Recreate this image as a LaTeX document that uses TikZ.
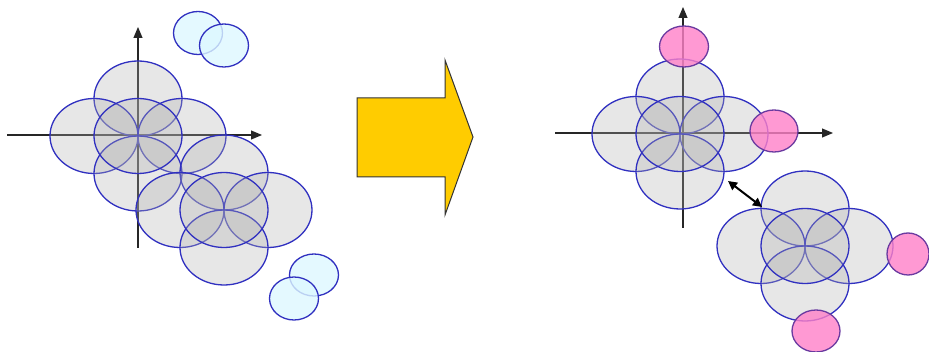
\documentclass[tikz,border=0pt]{standalone}
\usepackage{xcolor}
\usepackage{tikz}
\usetikzlibrary{arrows.meta,calc}
\definecolor{rim}{HTML}{3030C0}
\definecolor{petalgray}{HTML}{B0B0B0}
\definecolor{iceblue}{HTML}{DDF8FF}
\definecolor{candy}{HTML}{FF80C8}
\definecolor{plum}{HTML}{6A3AA0}
\definecolor{amber}{HTML}{FFCC00}
\tikzset{
  axisline/.style={-{Triangle[length=11pt,width=9pt]}, line width=1.1pt, color=black!85},
  petal/.style={draw=rim, line width=1.3pt, fill=petalgray, fill opacity=0.3},
  iceblob/.style={draw=rim, line width=1.3pt, fill=iceblue, fill opacity=0.8},
  candyblob/.style={draw=plum, line width=1.3pt, fill=candy, fill opacity=0.8},
  bigarrow/.style={draw=black!80, line width=1pt, fill=amber},
  gaparrow/.style={{Triangle[length=9pt,width=9pt]}-{Triangle[length=9pt,width=9pt]}, line width=2pt},
}
% four petals round a centre, each passing through it
\newcommand{\flower}[1]{%
  \draw[petal] ($(#1)+(0,-37.5)$) ellipse (44 and 37.5);
  \draw[petal] ($(#1)+(-44,0)$) ellipse (44 and 37.5);
  \draw[petal] ($(#1)+(44,0)$) ellipse (44 and 37.5);
  \draw[petal] ($(#1)+(0,37.5)$) ellipse (44 and 37.5);
  \draw[petal] (#1) ellipse (44 and 37.5);
}
\begin{document}
\begin{tikzpicture}[x=1pt, y=-1pt]
\useasboundingbox (0,0) rectangle (929,352);

% left: before
\coordinate (xlstart) at (7,135);
\coordinate (xlend) at (262,135);
\coordinate (ylstart) at (138,248);
\coordinate (ylend) at (138,27);
\draw[axisline] (xlstart) -- (xlend);
\draw[axisline] (ylstart) -- (ylend);

\coordinate (lcore) at (138,136);
\coordinate (lshift) at (224,210);
\flower{lcore}
\flower{lshift}

\draw[iceblob] (198,33) ellipse (24.5 and 21.5);
\draw[iceblob] (224,45.5) ellipse (24.5 and 21.5);
\draw[iceblob] (314,275) ellipse (24.5 and 21);
\draw[iceblob] (294,298.5) ellipse (24.5 and 21.5);

% middle arrow
\draw[bigarrow] (357,98) -- (445,98) -- (445,60) -- (473,137)
  -- (445,215) -- (445,177) -- (357,177) -- cycle;

% right: after
\coordinate (xrstart) at (555,133);
\coordinate (xrend) at (833,133);
\coordinate (yrstart) at (683,228);
\coordinate (yrend) at (683,7);
\draw[axisline] (xrstart) -- (xrend);
\draw[axisline] (yrstart) -- (yrend);

\coordinate (rcore) at (680,134);
\coordinate (rshift) at (805,246);
\flower{rcore}
\flower{rshift}

\draw[candyblob] (684,46.5) ellipse (24.5 and 20.5);
\draw[candyblob] (774,131) ellipse (24 and 21);
\draw[candyblob] (908,254) ellipse (21 and 21);
\draw[candyblob] (816,331) ellipse (24 and 21);

\coordinate (gapa) at (728,181);
\coordinate (gapb) at (762,207);
\draw[gaparrow] (gapa) -- (gapb);

\end{tikzpicture}
\end{document}
